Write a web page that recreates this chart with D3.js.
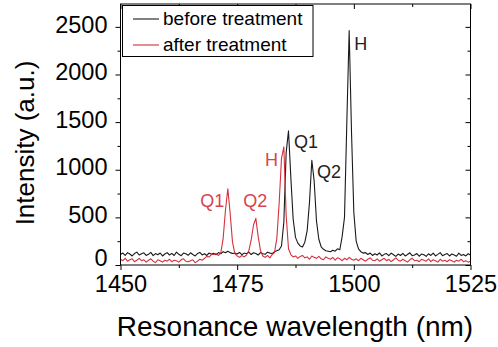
<!DOCTYPE html>
<html>
<head>
<meta charset="utf-8">
<script src="https://cdn.jsdelivr.net/npm/d3@7"></script>
<style>
  html, body { margin: 0; padding: 0; background: #fff; }
  svg { display: block; }
  text { font-family: "Liberation Sans", Arial, sans-serif; }
</style>
</head>
<body>
<svg id="chart" width="498" height="347"></svg>
<script>
// Wavelength grid (nm), 0.5 nm sampling
const wavelength = [
  1450, 1450.5, 1451, 1451.5, 1452, 1452.5, 1453, 1453.5, 1454, 1454.5,
  1455, 1455.5, 1456, 1456.5, 1457, 1457.5, 1458, 1458.5, 1459, 1459.5,
  1460, 1460.5, 1461, 1461.5, 1462, 1462.5, 1463, 1463.5, 1464, 1464.5,
  1465, 1465.5, 1466, 1466.5, 1467, 1467.5, 1468, 1468.5, 1469, 1469.5,
  1470, 1470.5, 1471, 1471.5, 1472, 1472.5, 1473, 1473.5, 1474, 1474.5,
  1475, 1475.5, 1476, 1476.5, 1477, 1477.5, 1478, 1478.5, 1479, 1479.5,
  1480, 1480.5, 1481, 1481.5, 1482, 1482.5, 1483, 1483.5, 1484, 1484.5,
  1485, 1485.5, 1486, 1486.5, 1487, 1487.5, 1488, 1488.5, 1489, 1489.5,
  1490, 1490.5, 1491, 1491.5, 1492, 1492.5, 1493, 1493.5, 1494, 1494.5,
  1495, 1495.5, 1496, 1496.5, 1497, 1497.5, 1498, 1498.5, 1499, 1499.5,
  1500, 1500.5, 1501, 1501.5, 1502, 1502.5, 1503, 1503.5, 1504, 1504.5,
  1505, 1505.5, 1506, 1506.5, 1507, 1507.5, 1508, 1508.5, 1509, 1509.5,
  1510, 1510.5, 1511, 1511.5, 1512, 1512.5, 1513, 1513.5, 1514, 1514.5,
  1515, 1515.5, 1516, 1516.5, 1517, 1517.5, 1518, 1518.5, 1519, 1519.5,
  1520, 1520.5, 1521, 1521.5, 1522, 1522.5, 1523, 1523.5, 1524, 1524.5,
  1525
];

// Spectrum before treatment (a.u.)
const beforeTreatment = [
  110, 125, 100, 130, 115, 95, 120, 135, 105, 118,
  128, 100, 112, 132, 98, 120, 108, 126, 95, 115,
  130, 105, 122, 100, 135, 112, 98, 125, 118, 102,
  128, 110, 95, 120, 132, 106, 118, 100, 126, 114,
  122, 108, 130, 118, 140, 128, 145, 130, 120, 125,
  115, 132, 108, 125, 118, 135, 110, 128, 120, 105,
  130, 118, 112, 135, 125, 120, 140, 150, 160, 200,
  450, 1180, 1410, 920, 480, 290, 230, 200, 190, 240,
  360, 660, 1100, 880, 460, 270, 190, 165, 150, 145,
  140, 155, 145, 170, 160, 300, 500, 1500, 2460, 1400,
  550, 250, 170, 140, 125, 130, 110, 125, 100, 118,
  105, 128, 95, 112, 120, 98, 125, 108, 90, 115,
  100, 122, 95, 110, 128, 98, 105, 120, 92, 115,
  108, 90, 118, 100, 125, 95, 112, 130, 98, 110,
  120, 95, 115, 105, 92, 125, 100, 110, 95, 118,
  105
];

// Spectrum after treatment (a.u.)
const afterTreatment = [
  60, 45, 70, 40, 55, 65, 35, 50, 70, 45,
  55, 30, 50, 65, 40, 25, 55, 45, 30, 50,
  40, 60, 35, 50, 45, 30, 55, 65, 40, 35,
  45, 55, 25, 40, 60, 50, 70, 90, 85, 110,
  110, 120, 100, 130, 280, 580, 800, 540, 240, 120,
  95, 80, 100, 85, 105, 150, 260, 420, 490, 300,
  150, 95, 80, 100, 75, 110, 130, 280, 650, 1120,
  1240, 520, 170, 110, 85, 95, 70, 90, 100, 75,
  85, 60, 95, 80, 70, 90, 65, 55, 85, 70,
  60, 80, 50, 75, 65, 45, 70, 55, 80, 60,
  50, 65, 45, 70, 55, 40, 60, 75, 50, 45,
  65, 40, 55, 70, 45, 60, 35, 55, 75, 50,
  40, 60, 45, 30, 55, 70, 45, 50, 35, 60,
  50, 40, 65, 35, 55, 45, 30, 60, 40, 50,
  35, 55, 45, 30, 50, 40, 60, 35, 45, 30,
  40
];

const seriesNames = ["before treatment", "after treatment"];
const seriesColors = ["#1a1a1a", "#d62f3d"];
const labelColors = ["#222", "#d9434f"];

const xTicks = [1450, 1475, 1500, 1525];
const xMinorTicks = [1462.5, 1487.5, 1512.5];
const yTicks = [0, 500, 1000, 1500, 2000, 2500];
const yMinorTicks = [250, 750, 1250, 1750, 2250];

// Peak labels: [text, wavelength, intensity, series index]
const peakLabels = [
  ["H", 1499.0, 2460, 0],
  ["Q1", 1486.0, 1410, 0],
  ["Q2", 1491.0, 1100, 0],
  ["H", 1485.0, 1240, 1],
  ["Q1", 1473.0, 800, 1],
  ["Q2", 1479.0, 490, 1]
];

const svg = d3.select("#chart");
const plotLeft = 120.5, plotRight = 470.5, plotTop = 4, plotBottom = 265;

const x = d3.scaleLinear().domain([1450, 1525]).range([plotLeft, plotRight]);
const y = d3.scaleLinear().domain([0, 2740]).range([plotBottom, plotTop]);

// Plot traces, clipped to the frame
svg.append("clipPath").attr("id", "plotclip")
  .append("rect").attr("x", plotLeft).attr("y", plotTop)
  .attr("width", plotRight - plotLeft).attr("height", plotBottom - plotTop);

const line = d3.line().x(d => x(d[0])).y(d => y(d[1]));
const series = [beforeTreatment, afterTreatment];
[0, 1].forEach(si => {
  svg.append("path")
    .datum(wavelength.map((w, i) => [w, series[si][i]]))
    .attr("clip-path", "url(#plotclip)")
    .attr("fill", "none")
    .attr("stroke", seriesColors[si])
    .attr("stroke-width", 1.1)
    .attr("stroke-linejoin", "round")
    .attr("d", line);
});

// Axes
const axisFont = 23.5;
function styleAxis(g) {
  g.select(".domain").remove();
  g.selectAll("line").attr("stroke", "#000");
  g.selectAll("text").attr("font-size", axisFont).attr("fill", "#000")
    .attr("font-family", '"Liberation Sans", Arial, sans-serif');
}

svg.append("g").attr("transform", `translate(0,${plotBottom})`)
  .call(d3.axisBottom(x).tickValues(xTicks).tickFormat(d3.format("d")).tickSize(5).tickPadding(5.5))
  .call(styleAxis);
svg.append("g").attr("transform", `translate(0,${plotBottom})`)
  .call(d3.axisBottom(x).tickValues(xMinorTicks).tickFormat("").tickSize(3))
  .call(styleAxis);
svg.append("g").attr("transform", `translate(${plotLeft},0)`)
  .call(d3.axisLeft(y).tickValues(yTicks).tickFormat(d3.format("d")).tickSize(5).tickPadding(8))
  .call(styleAxis)
  .call(g => g.selectAll("text").attr("dy", d => d === 0 ? "0.04em" : "0.22em"));
svg.append("g").attr("transform", `translate(${plotLeft},0)`)
  .call(d3.axisLeft(y).tickValues(yMinorTicks).tickFormat("").tickSize(3))
  .call(styleAxis);
// Mirrored ticks on top and right, pointing inward
svg.append("g").attr("transform", `translate(0,${plotTop})`)
  .call(d3.axisTop(x).tickValues(xTicks).tickFormat("").tickSize(-5))
  .call(styleAxis);
svg.append("g").attr("transform", `translate(0,${plotTop})`)
  .call(d3.axisTop(x).tickValues(xMinorTicks).tickFormat("").tickSize(-3))
  .call(styleAxis);
svg.append("g").attr("transform", `translate(${plotRight},0)`)
  .call(d3.axisRight(y).tickValues(yTicks).tickFormat("").tickSize(-5))
  .call(styleAxis);
svg.append("g").attr("transform", `translate(${plotRight},0)`)
  .call(d3.axisRight(y).tickValues(yMinorTicks).tickFormat("").tickSize(-3))
  .call(styleAxis);

// Frame
svg.append("rect")
  .attr("x", plotLeft).attr("y", plotTop)
  .attr("width", plotRight - plotLeft).attr("height", plotBottom - plotTop)
  .attr("fill", "none").attr("stroke", "#000").attr("stroke-width", 1);

// Axis titles
svg.append("text")
  .attr("x", (plotLeft + plotRight) / 2 - 0.5).attr("y", 336)
  .attr("text-anchor", "middle").attr("font-size", 28).attr("fill", "#000")
  .text("Resonance wavelength (nm)");
svg.append("text")
  .attr("transform", "translate(34,143) rotate(-90)")
  .attr("text-anchor", "middle").attr("font-size", 26).attr("fill", "#000")
  .text("Intensity (a.u.)");

// Peak annotations, placed beside their peaks (offsets to text baseline)
const labelOffsets = [[5, 19], [5.5, 17], [5.2, 18], [-18.8, 19], [-27.5, 18], [-12.5, -11]];
peakLabels.forEach((p, i) => {
  svg.append("text")
    .attr("x", x(p[1]) + labelOffsets[i][0])
    .attr("y", y(p[2]) + labelOffsets[i][1])
    .attr("font-size", 18)
    .attr("fill", labelColors[p[3]])
    .text(p[0]);
});

// Legend
const legend = svg.append("g");
legend.append("rect")
  .attr("x", 122.5).attr("y", 5.5).attr("width", 190.5).attr("height", 51)
  .attr("fill", "#fff").attr("stroke", "#000").attr("stroke-width", 1);
seriesNames.forEach((name, i) => {
  const ly = 19 + i * 26;
  legend.append("line")
    .attr("x1", 133).attr("x2", 159).attr("y1", ly).attr("y2", ly)
    .attr("stroke", seriesColors[i]).attr("stroke-width", 1.1);
  legend.append("text")
    .attr("x", 163).attr("y", ly + 6)
    .attr("font-size", 19).attr("fill", "#000")
    .text(name);
});
</script>
</body>
</html>
